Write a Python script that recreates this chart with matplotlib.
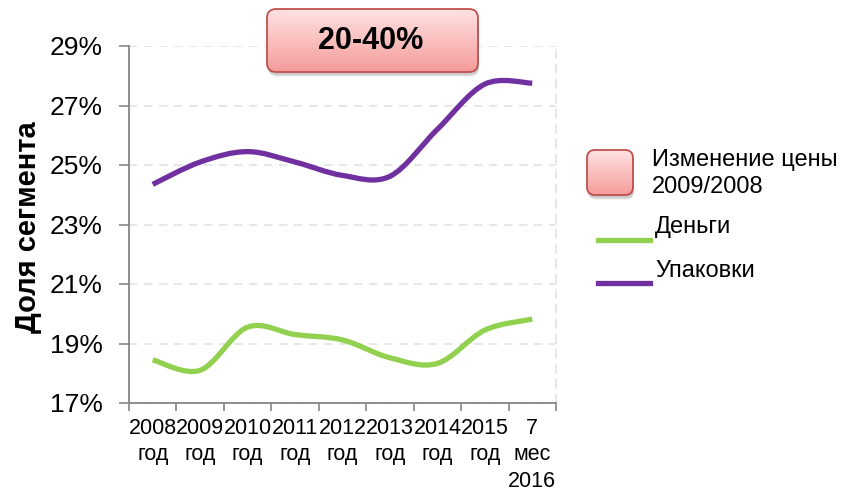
import numpy as np
import matplotlib
matplotlib.use('Agg')
from matplotlib import pyplot as plt
from matplotlib.path import Path
from matplotlib.patches import PathPatch, FancyBboxPatch
from matplotlib.lines import Line2D

plt.rcParams['font.family'] = ['Liberation Sans', 'DejaVu Sans']

categories = ['2008\nгод', '2009\nгод', '2010\nгод', '2011\nгод', '2012\nгод',
              '2013\nгод', '2014\nгод', '2015\nгод', '7\nмес\n2016']
dengi = [18.45, 18.1, 19.55, 19.3, 19.12, 18.52, 18.33, 19.45, 19.82]
upakovki = [24.35, 25.1, 25.45, 25.1, 24.65, 24.62, 26.2, 27.72, 27.75]
y_ticks = [17, 19, 21, 23, 25, 27, 29]

GREEN = '#92D050'
PURPLE = '#7030A0'
AXIS_GRAY = '#868686'

W, H = 844, 495


def smooth_path(xs, ys):
    # Catmull-Rom style bezier segments, like a "smoothed line" in a spreadsheet
    pts = np.column_stack([xs, ys]).astype(float)
    ext = np.vstack([pts[0], pts, pts[-1]])
    verts = [pts[0]]
    codes = [Path.MOVETO]
    for i in range(len(pts) - 1):
        p0, p1, p2, p3 = ext[i], ext[i + 1], ext[i + 2], ext[i + 3]
        c1 = p1 + (p2 - p0) / 6.0
        c2 = p2 - (p3 - p1) / 6.0
        verts += [c1, c2, p2]
        codes += [Path.CURVE4] * 3
    return Path(verts, codes)


def px(x, y):
    # pixel position (from top-left) -> figure fraction
    return x / W, 1 - y / H


fig = plt.figure(figsize=(W / 100, H / 100), dpi=100)
ax = fig.add_axes([129 / W, 1 - 403 / H, (556 - 129) / W, (403 - 46) / H])

x = np.arange(len(categories))
for vals, col in [(dengi, GREEN), (upakovki, PURPLE)]:
    ax.add_patch(PathPatch(smooth_path(x, vals), facecolor='none', edgecolor=col,
                           lw=3.8, capstyle='butt', zorder=3))

ax.set_xlim(-0.5, len(categories) - 0.5)
ax.set_ylim(17, 29)
ax.set_yticks(y_ticks)
ax.set_yticklabels([f'{v}%' for v in y_ticks])
ax.set_xticks(np.arange(len(categories) + 1) - 0.5)
ax.set_xticklabels([])
ax.set_xticks(x, minor=True)
ax.set_xticklabels(categories, minor=True, linespacing=1.36, va='top')
ax.tick_params(axis='x', which='minor', length=0, pad=10.5, labelsize=15.5)
ax.tick_params(axis='x', which='major', length=6, width=1.2, color=AXIS_GRAY)
ax.tick_params(axis='y', length=7, width=1.2, color=AXIS_GRAY, pad=12, labelsize=19)

for side in ['left', 'bottom']:
    ax.spines[side].set_color(AXIS_GRAY)
    ax.spines[side].set_linewidth(1.3)
ax.spines['top'].set_visible(False)
ax.spines['right'].set_color('#E3E3E3')
ax.spines['right'].set_linestyle((0, (5, 4)))
ax.spines['right'].set_linewidth(1.2)
ax.yaxis.grid(True, color='#E3E3E3', linestyle=(0, (5, 4)), linewidth=1.2)
ax.set_axisbelow(True)

fig.text(*px(28, 227), 'Доля сегмента', rotation=90, ha='center', va='center',
         fontsize=21, fontweight='bold')

# overlay in pixel coordinates for the callout box and the legend
ov = fig.add_axes([0, 0, 1, 1], zorder=5)
ov.set_xlim(0, W)
ov.set_ylim(H, 0)
ov.axis('off')

grad = np.linspace(0, 1, 100).reshape(-1, 1)
pink = matplotlib.colors.LinearSegmentedColormap.from_list('pink', ['#FFE2E2', '#F49C9A'])


def pink_box(x0, y0, x1, y1, r):
    style = f'round,pad=0,rounding_size={r}'
    for k, a in [(5, 0.05), (4, 0.07), (3, 0.09)]:
        ov.add_patch(FancyBboxPatch((x0 + 1, y0 + k), x1 - x0, y1 - y0, boxstyle=style,
                                    facecolor='#000000', edgecolor='none', alpha=a))
    clip = FancyBboxPatch((x0, y0), x1 - x0, y1 - y0, boxstyle=style,
                          facecolor='none', edgecolor='none', transform=ov.transData)
    im = ov.imshow(grad, extent=[x0, x1, y1, y0], cmap=pink, aspect='auto', zorder=2)
    im.set_clip_path(clip)
    ov.add_patch(FancyBboxPatch((x0, y0), x1 - x0, y1 - y0, boxstyle=style,
                                facecolor='none', edgecolor='#C0504D', lw=1.3, zorder=3))
    ov.set_xlim(0, W)
    ov.set_ylim(H, 0)


pink_box(267, 9, 478, 72, 9)
ov.text(371, 41, '20-40%', ha='center', va='center', fontsize=22,
        fontweight='bold', zorder=4)

pink_box(587, 150, 633, 195, 8)
ov.text(652, 166, 'Изменение цены', fontsize=17, va='baseline', zorder=4)
ov.text(652, 193, '2009/2008', fontsize=17, va='baseline', zorder=4)

ov.add_line(Line2D([598, 650], [240, 240], color=GREEN, lw=3.8))
ov.text(655, 233, 'Деньги', fontsize=17, va='baseline')
ov.add_line(Line2D([598, 650], [283, 283], color=PURPLE, lw=3.8))
ov.text(655, 277, 'Упаковки', fontsize=17, va='baseline')

fig.savefig('out.png', dpi=100)
